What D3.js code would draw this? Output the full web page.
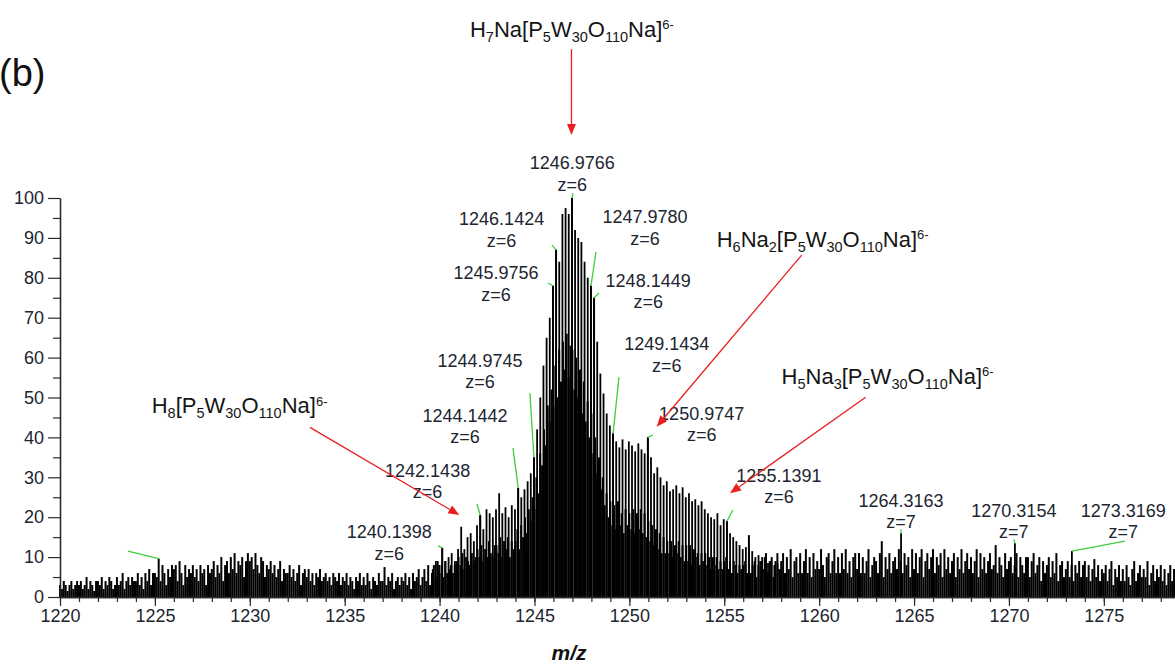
<!DOCTYPE html>
<html>
<head>
<meta charset="utf-8">
<script src="https://cdn.jsdelivr.net/npm/d3@7"></script>
<style>
  body { margin: 0; background: #fff; }
  svg { display: block; }
  text { font-family: "Liberation Sans", Arial, sans-serif; }
</style>
</head>
<body>
<svg id="chart" width="1175" height="668"></svg>
<script>
// ---- axis ticks ----
const mzTicks = [1220, 1225, 1230, 1235, 1240, 1245, 1250, 1255, 1260, 1265, 1270, 1275];
const intensityTicks = [0, 10, 20, 30, 40, 50, 60, 70, 80, 90, 100];

// ---- background signal: one intensity per 0.1 m/z, one row per m/z unit starting at 1220 ----
const backgroundStart = 1220.0;
const backgroundStep = 0.1;
const backgroundRows = [
  [3,2,4,3,1.5,3,4,2,3,4],        // 1220
  [3,4,2,3,5,2,4,3,1.5,4],        // 1221
  [4,3,5,2,4,3,5,4,2,3],          // 1222
  [5,3,4,6,2,4,5,3,5,4],          // 1223
  [4,6,3,5,2,6,4,7,3,6],          // 1224
  [6,5,9.6,4,8,6,3,7,5,8],        // 1225
  [7,8,4,9,6,3,8,5,7,6],          // 1226
  [8,5,7,4,8,6,7,3,8,6],          // 1227
  [7,9,5,8,6,10,4,8,9,6],         // 1228
  [10,7,11,6,9,8,10,5,9,11],      // 1229
  [9,10,7,11,8,6,10,9,5,8],       // 1230
  [7,9,6,8,5,7,9,4,7,6],          // 1231
  [6,8,5,7,4,6,8,3,6,7],          // 1232
  [5,7,4,6,3,6,5,7,4,5],          // 1233
  [6,4,5,3,6,5,4,6,3,5],          // 1234
  [4,6,3,5,4,2,5,4,6,3],          // 1235
  [5,3,6,4,2,5,4,3,6,4],          // 1236
  [4,7.5,3,5,4,6,2,4,5,3],        // 1237
  [5,4,6,3,5,2,6,4,5,7],          // 1238
  [3,5,7,4,8,3,6,8,5,9],          // 1239
  [6,8,5,9,6,7,8,6,8,9],          // 1240
  [10,8,11,7,10,9,8,11,9,10],     // 1241
  [12,10,13,9,12,10,14,11,10,13], // 1242
  [13,11,15,10,14,12,15,10,14,12],// 1243
  [14,17,12,18,15,20,16,22,19,25],// 1244
  [22,30,26,36,33,42,38,48,44,52],// 1245
  [48,58,50,62,54,64,57,66,55,63],// 1246
  [62,52,60,50,57,46,54,44,49,40],// 1247
  [46,36,40,31,35,27,30,23,26,20],// 1248
  [24,18,23,17,24,18,21,16,22,18],// 1249
  [21,17,22,16,21,17,22,16,21,15],// 1250
  [19,14,18,13,17,12,16,11,15,11],// 1251
  [14,11,14,10,13,11,14,10,13,9], // 1252
  [13,9,13,8,12,10,11,8,11,9],    // 1253
  [11,8,10,7,10,8,10,7,9,7],      // 1254
  [9,10,7,9,6,9,8,6,8,7],         // 1255
  [8,9,6,15.5,6,8,9,5,8,9],       // 1256
  [10,7,11,6,9,10,5,9,11,7],      // 1257
  [9,11,6,10,7,12,5,9,10,6],      // 1258
  [11,6,9,12,6,10,5,11,7,9],      // 1259
  [7,12,8,5,10,11,6,9,12,6],      // 1260
  [10,6,11,7,12,6,9,5,10,11],     // 1261
  [7,11,6,10,6,9,12,5,8,10],      // 1262
  [9,6,11,14,5,10,7,11,6,9],      // 1263
  [10,7,12,9,6,11,8,10,5,12],     // 1264
  [7,11,6,10,12,5,9,11,7,10],     // 1265
  [12,6,10,8,11,5,12,7,10,6],     // 1266
  [9,11,5,10,7,12,6,9,11,7],      // 1267
  [10,6,9,12,5,11,7,10,6,9],      // 1268
  [11,7,8,13,6,10,8,5,11,7],      // 1269
  [9,10,6,8,11,5,10,8,6,10],      // 1270
  [10,5,9,11,6,8,10,4,9,6],       // 1271
  [8,10,5,9,6,11,4,8,9,5],        // 1272
  [7,9,5,8,4,8,6,9,5,8],          // 1273
  [9,5,8,4,7,9.5,5,8,4,7],        // 1274
  [6,8,4,7,9,3,7,5,8,4],          // 1275
  [7,4,8,5,3,7,9,4,6,8],          // 1276
  [5,7,5,9,3,6,8,4,7,5],          // 1277
  [8,4,7,3,6,8,4,7]               // 1278
];

// ---- z = 6 isotope envelope: peaks spaced 1/6 m/z apart ----
const clusterStart = 1239.6398;
const clusterStep = 0.16666;
const clusterHeights = [
  7, 9, 8, 12.3, 9, 10, 11, 9, 12, 17.6,
  12, 15, 16, 14, 18, 20.5, 17, 22, 21, 20,
  22, 26, 21, 22.5, 20, 23, 22, 27.3, 25, 27,
  29, 31, 35, 42, 50, 58, 65, 70, 78, 87,
  84, 96, 97.5, 96, 100, 92, 90, 89, 84, 80,
  78, 75, 64, 56, 51, 46, 43, 41, 39, 37.5,
  39.5, 37, 39, 38, 36.5, 38.5, 37, 36, 40, 35,
  31, 32.5, 30, 28, 29, 26.5, 27, 28, 26, 27.5,
  25, 26, 24, 24.5, 23, 24, 22, 21, 20, 19.5,
  21, 18, 19.5, 19, 16, 15, 14, 13, 12, 12.5,
  11, 11.5, 10, 10.5, 9, 10, 8.5, 9, 8, 8.5, 7
];

// ---- annotated peaks: m/z, charge, relative intensity ----
const peakMz        = [1240.1398, 1242.1438, 1244.1442, 1244.9745, 1245.9756, 1246.1424, 1246.9766, 1247.9780, 1248.1449, 1249.1434, 1250.9747, 1255.1391, 1264.3163, 1270.3154, 1273.3169];
const peakCharge    = [6, 6, 6, 6, 6, 6, 6, 6, 6, 6, 6, 6, 7, 7, 7];
const peakIntensity = [12.3, 20.5, 27.3, 35, 78, 87, 100, 78, 75, 41, 40, 19, 16, 13.5, 11.5];

// label placement (first text line baseline, in m/z / intensity units) and leader start
const peakLabelAt = [
  [1237.35, 14.7], [1239.37, 30.2], [1241.34, 43.9], [1242.13, 57.7], [1242.97, 79.6],
  [1243.27, 93.2], [1246.99, 107.2], [1250.82, 93.7], [1250.99, 77.8], [1251.97, 61.9],
  [1253.81, 44.4], [1257.88, 28.9], [1264.31, 22.6], [1270.26, 20.1], [1276.02, 20.1]
];
const leaderFrom = [
  [1239.92, 12.8], [1241.97, 23.3], [1243.87, 37.3], [1244.76, 51.1], [1245.71, 78.7],
  [1245.92, 88.2], [1247.03, 101.25], [1248.24, 86.5], [1248.40, 76.2], [1249.45, 55.1],
  [1251.24, 40.6], [1255.45, 21.8], [1264.31, 17.0], [1270.26, 14.5], [1276.11, 14.0]
];
// leader that points at an unlabelled peak near 1225.2
const extraLeader = { from: [1223.58, 11.5], to: [1225.2, 9.6] };

// ---- assigned species: formula pieces (normal / sub / sup), label anchor, arrow ----
const speciesFormula = [
  [["H",""],["7","sub"],["Na[P",""],["5","sub"],["W",""],["30","sub"],["O",""],["110","sub"],["Na]",""],["6-","sup"]],
  [["H",""],["8","sub"],["[P",""],["5","sub"],["W",""],["30","sub"],["O",""],["110","sub"],["Na]",""],["6-","sup"]],
  [["H",""],["6","sub"],["Na",""],["2","sub"],["[P",""],["5","sub"],["W",""],["30","sub"],["O",""],["110","sub"],["Na]",""],["6-","sup"]],
  [["H",""],["5","sub"],["Na",""],["3","sub"],["[P",""],["5","sub"],["W",""],["30","sub"],["O",""],["110","sub"],["Na]",""],["6-","sup"]]
];
const speciesLabelAt = [[1241.60, 140.4], [1224.83, 46.1], [1254.60, 87.8], [1258.02, 53.4]];
const speciesArrowFrom = [[1246.95, 137.3], [1233.17, 42.5], [1259.08, 85.7], [1262.45, 50.05]];
const speciesArrowTo   = [[1246.95, 115.8], [1241.04, 20.55], [1251.44, 42.7], [1255.30, 26.0]];

// ---- chart ----
const svg = d3.select("#chart");
const x = d3.scaleLinear().domain([1220, 1278.75]).range([60, 1175]);
const y = d3.scaleLinear().domain([0, 100]).range([597, 198]);

const textColor = "#1d2530";
const axisColor = "#2a2a2a";

// spectrum sticks
const backgroundPoints = [];
backgroundRows.forEach((row, r) => row.forEach((v, i) => {
  backgroundPoints.push({ mz: backgroundStart + r + i * backgroundStep, v });
}));
const clusterPoints = clusterHeights.map((v, k) => ({ mz: clusterStart + k * clusterStep, v }));
const annotated = peakMz.map((mz, i) => ({ mz, v: peakIntensity[i], z: peakCharge[i], at: peakLabelAt[i], from: leaderFrom[i] }));

const spectrum = svg.append("g").attr("class", "spectrum");
function sticks(data, width) {
  spectrum.append("g").selectAll("line").data(data).join("line")
    .attr("x1", d => x(d.mz)).attr("x2", d => x(d.mz))
    .attr("y1", y(0)).attr("y2", d => y(d.v))
    .attr("stroke", "#000").attr("stroke-width", width);
}
sticks(backgroundPoints, 2.0);
sticks(clusterPoints, 1.8);
sticks(annotated, 1.8);

// axes
const xMajor = d3.axisBottom(x).tickValues(mzTicks).tickSize(9).tickSizeOuter(0).tickPadding(3).tickFormat(d3.format("d"));
const xMinor = d3.axisBottom(x).tickValues(d3.range(1220, 1279, 1)).tickSize(5).tickSizeOuter(0).tickFormat("");
const yMajor = d3.axisLeft(y).tickValues(intensityTicks).tickSize(12).tickSizeOuter(0).tickPadding(4);
const yMinor = d3.axisLeft(y).tickValues(d3.range(5, 100, 10)).tickSize(7).tickSizeOuter(0).tickFormat("");

function styleAxis(g) {
  g.selectAll("path.domain").attr("stroke", axisColor).attr("stroke-width", 1.3);
  g.selectAll(".tick line").attr("stroke", axisColor).attr("stroke-width", 1.2);
  g.selectAll(".tick text").attr("fill", textColor).style("font-size", "18px");
}
svg.append("g").attr("transform", `translate(0,${y(0)})`).call(xMinor).call(styleAxis);
svg.append("g").attr("transform", `translate(0,${y(0)})`).call(xMajor).call(styleAxis);
svg.append("g").attr("transform", `translate(${x(1220)},0)`).call(yMinor).call(styleAxis);
svg.append("g").attr("transform", `translate(${x(1220)},0)`).call(yMajor).call(styleAxis);

// axis title
svg.append("text")
  .attr("x", 569).attr("y", 660)
  .attr("text-anchor", "middle")
  .attr("fill", "#111")
  .style("font-size", "21px").style("font-weight", "bold").style("font-style", "italic")
  .text("m/z");

// panel tag
svg.append("text")
  .attr("x", -1).attr("y", 86)
  .attr("fill", "#111")
  .style("font-size", "38px")
  .text("(b)");

// peak leaders
const green = "#3ccf3c";
const leaders = svg.append("g");
annotated.forEach(d => {
  leaders.append("line")
    .attr("x1", x(d.from[0])).attr("y1", y(d.from[1]))
    .attr("x2", x(d.mz)).attr("y2", y(d.v))
    .attr("stroke", green).attr("stroke-width", 1.3);
});
leaders.append("line")
  .attr("x1", x(extraLeader.from[0])).attr("y1", y(extraLeader.from[1]))
  .attr("x2", x(extraLeader.to[0])).attr("y2", y(extraLeader.to[1]))
  .attr("stroke", green).attr("stroke-width", 1.3);

// peak labels
const labels = svg.append("g").attr("fill", textColor).style("font-size", "18px").attr("text-anchor", "middle");
annotated.forEach(d => {
  const lx = x(d.at[0]), ly = y(d.at[1]);
  labels.append("text").attr("x", lx).attr("y", ly).text(d.mz.toFixed(4));
  labels.append("text").attr("x", lx).attr("y", ly + 21.5).text("z=" + d.z);
});

// species labels with sub/superscripts
const species = svg.append("g").attr("fill", "#151515");
speciesFormula.forEach((parts, i) => {
  const t = species.append("text")
    .attr("x", x(speciesLabelAt[i][0])).attr("y", y(speciesLabelAt[i][1]))
    .style("font-size", "22px");
  let shift = 0;
  parts.forEach(([s, role]) => {
    const target = role === "sub" ? 5 : role === "sup" ? -7.5 : 0;
    t.append("tspan")
      .attr("dy", target - shift)
      .style("font-size", role === "sub" ? "14.5px" : role === "sup" ? "13px" : "22px")
      .text(s);
    shift = target;
  });
});

// red arrows
const red = "#e82020";
const arrows = svg.append("g");
speciesArrowFrom.forEach((f, i) => {
  const x1 = x(f[0]), y1 = y(f[1]);
  const x2 = x(speciesArrowTo[i][0]), y2 = y(speciesArrowTo[i][1]);
  const ang = Math.atan2(y2 - y1, x2 - x1);
  const headLen = 11, headHalf = 4.5;
  const bx = x2 - headLen * Math.cos(ang), by = y2 - headLen * Math.sin(ang);
  arrows.append("line")
    .attr("x1", x1).attr("y1", y1).attr("x2", bx).attr("y2", by)
    .attr("stroke", red).attr("stroke-width", 1.3);
  const px = -Math.sin(ang) * headHalf, py = Math.cos(ang) * headHalf;
  arrows.append("polygon")
    .attr("points", `${x2},${y2} ${bx + px},${by + py} ${bx - px},${by - py}`)
    .attr("fill", red);
});
</script>
</body>
</html>
